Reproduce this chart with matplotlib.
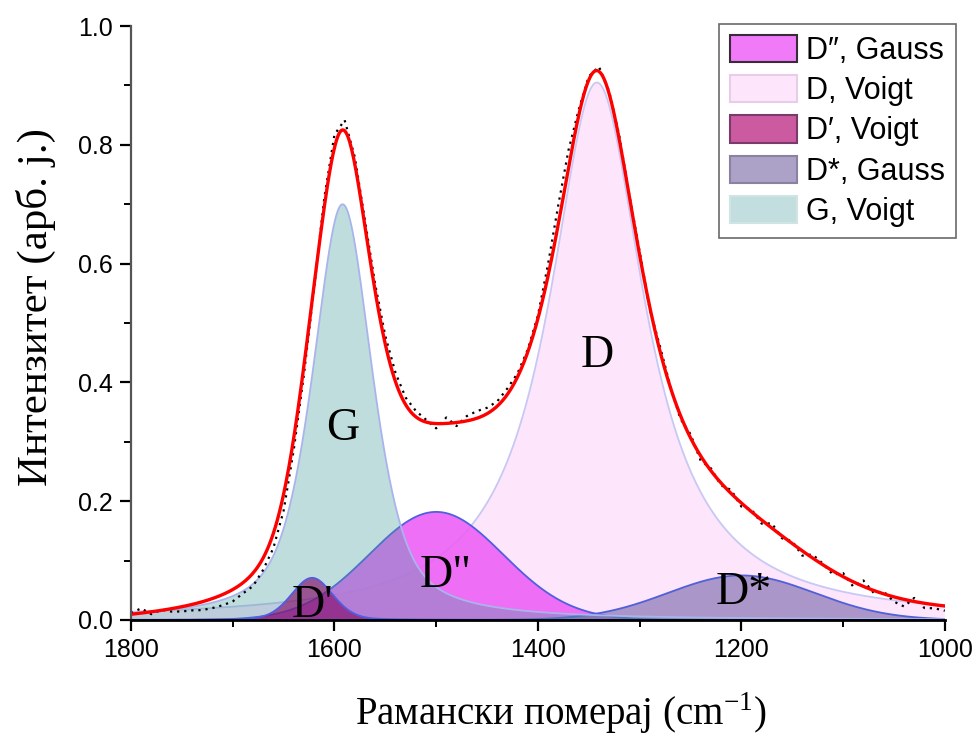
import numpy as np
import matplotlib
matplotlib.use("Agg")
import matplotlib.pyplot as plt
from matplotlib.patches import Patch

plt.rcParams['font.family'] = ['Liberation Sans', 'DejaVu Sans']
plt.rcParams['mathtext.fontset'] = 'custom'
plt.rcParams['mathtext.rm'] = 'Liberation Serif'

# ---- data ----
x_range = [1800, 1000]
# peak parameters: name, center (cm-1), height, FWHM (cm-1), Lorentz fraction
peak_names = ["D\u2033, Gauss", "D, Voigt", "D\u2032, Voigt", "D*, Gauss", "G, Voigt"]
peak_centers = [1500, 1342, 1622, 1200, 1592]
peak_heights = [0.182, 0.905, 0.071, 0.075, 0.700]
peak_fwhm = [155, 114, 48, 170, 70]
peak_lorentz = [0.0, 1.0, 0.2, 0.0, 0.6]
baseline_ends = [-0.016, -0.004]  # at 1800 and 1000

# measured spectrum: deviation from fit, every 10 cm-1 from 1800 to 1000
data_x = list(range(1800, 999, -10))
data_resid = [0.002, 0.008, -0.004, 0.001, -0.005, -0.008, -0.010, -0.014, -0.016, -0.018,
              -0.020, -0.018, -0.022, -0.020, -0.025, -0.028, -0.020, -0.015, -0.005, 0.015,
              0.022, 0.018, 0.012, 0.010, 0.012, 0.014, 0.015, 0.012, 0.010, 0.004,
              -0.008, 0.010, -0.006, 0.008, 0.012, 0.010, 0.008, 0.010, 0.006, 0.004,
              0.005, 0.020, 0.032, 0.030, 0.010, 0.006, 0.008, 0.004, 0.006, 0.002,
              0.006, -0.004, 0.008, 0.002, -0.006, 0.006, -0.008, 0.004, -0.004, 0.006,
              -0.006, 0.004, -0.006, 0.008, -0.004, 0.004, -0.008, 0.006, 0.002, -0.006,
              0.006, -0.008, 0.010, -0.004, 0.004, -0.008, -0.012, 0.006, -0.008, -0.006,
              -0.008]

peak_labels = ["D\"", "D", "D'", "D*", "G"]
label_pos_x = [1491, 1342, 1622, 1198, 1592]
label_pos_y = [0.075, 0.445, 0.024, 0.045, 0.322]

fill_colors = [(0.93, 0.38, 0.96), (0.992, 0.90, 0.984), (0.52, 0.05, 0.42),
               (0.45, 0.38, 0.66), (0.27, 0.62, 0.62)]
fill_alpha = [0.9, 1.0, 0.65, 0.6, 0.34]
edge_colors = ["#4f5fe0", "#c8c8f5", "#4f5fe0", "#5060d8", "#aab4ec"]
legend_face = ["#f07af8", "#fde6fb", "#cc5aa0", "#aca2c8", "#c2dede"]
legend_edge = ["#3a2a3a", "#e8cde8", "#7a3a6a", "#8a82a0", "#d0e4e4"]
draw_order = [1, 0, 3, 4, 2]


def profile(x, c, h, w, eta):
    gam = w / 2.0
    lor = 1.0 / (1.0 + ((x - c) / gam) ** 2)
    gau = np.exp(-4 * np.log(2) * ((x - c) / w) ** 2)
    return h * (eta * lor + (1 - eta) * gau)


x = np.linspace(1800, 1000, 801)
comps = [profile(x, c, h, w, e) for c, h, w, e in
         zip(peak_centers, peak_heights, peak_fwhm, peak_lorentz)]
base = np.interp(x, [1000, 1800], [baseline_ends[1], baseline_ends[0]])
fit = np.sum(comps, axis=0) + base

dx = np.array(data_x, dtype=float)
fit_at_data = np.interp(dx, x[::-1], fit[::-1])
data_y = fit_at_data + np.array(data_resid)

fig = plt.figure(figsize=(9.74, 7.35), dpi=100)
ax = fig.add_axes([0.1345, 0.1565, 0.8355, 0.808])

for i in draw_order:
    ax.fill_between(x, 0, comps[i], facecolor=fill_colors[i], alpha=fill_alpha[i],
                    edgecolor='none', zorder=2 + draw_order.index(i))
    ax.plot(x, comps[i], color=edge_colors[i], lw=1.3, zorder=2.5 + draw_order.index(i))
ax.plot(x, np.zeros_like(x), color="#3040d8", lw=2.0, zorder=9)

ax.plot(dx, data_y, color='black', lw=1.6, linestyle=(0, (1, 2.2)), zorder=10)
ax.plot(x, fit, color='#ff0000', lw=2.4, zorder=11)

for t, px, py in zip(peak_labels, label_pos_x, label_pos_y):
    ax.text(px, py, t, fontsize=33, family='Liberation Serif', ha='center', va='center',
            zorder=12)

ax.set_xlim(x_range[0], x_range[1])
ax.set_ylim(0, 1.0)
ax.set_xticks([1800, 1600, 1400, 1200, 1000])
ax.set_xticks([1700, 1500, 1300, 1100], minor=True)
ax.set_yticks([0.0, 0.2, 0.4, 0.6, 0.8, 1.0])
ax.set_yticks([0.1, 0.3, 0.5, 0.7, 0.9], minor=True)
ax.set_yticklabels(["0.0", "0.2", "0.4", "0.6", "0.8", "1.0"])
ax.tick_params(axis='both', which='major', direction='out', length=8, width=1.6, pad=5,
               labelsize=18)
ax.tick_params(axis='both', which='minor', direction='out', length=5, width=1.4)
ax.spines['top'].set_visible(False)
ax.spines['right'].set_visible(False)
ax.spines['left'].set_color('#555555')
ax.spines['left'].set_linewidth(1.6)
ax.spines['bottom'].set_linewidth(2.0)
ax.spines['left'].set_zorder(20)
ax.spines['bottom'].set_zorder(20)

ax.set_xlabel(r"Рамански померај (cm$^{\mathregular{-1}}$)", family='Liberation Serif',
              fontsize=28, labelpad=20)
ax.xaxis.label.set_x(0.528)
ax.set_ylabel("Интензитет (арб. j.)", family='Liberation Serif', fontsize=31, labelpad=16)
ax.yaxis.label.set_y(0.527)

handles = [Patch(facecolor=legend_face[i], edgecolor=legend_edge[i], lw=1.5)
           for i in range(5)]
leg = fig.legend(handles, peak_names, loc='upper right', bbox_to_anchor=(0.9815, 0.9673),
                 bbox_transform=fig.transFigure, borderaxespad=0,
                 prop={'family': 'Liberation Sans', 'size': 22}, frameon=True, fancybox=False,
                 handlelength=2.2, handleheight=1.0, labelspacing=0.3, handletextpad=0.3,
                 borderpad=0.35)
leg.get_frame().set_edgecolor('#444444')
leg.get_frame().set_linewidth(1.2)

fig.savefig("out.png", dpi=100)
